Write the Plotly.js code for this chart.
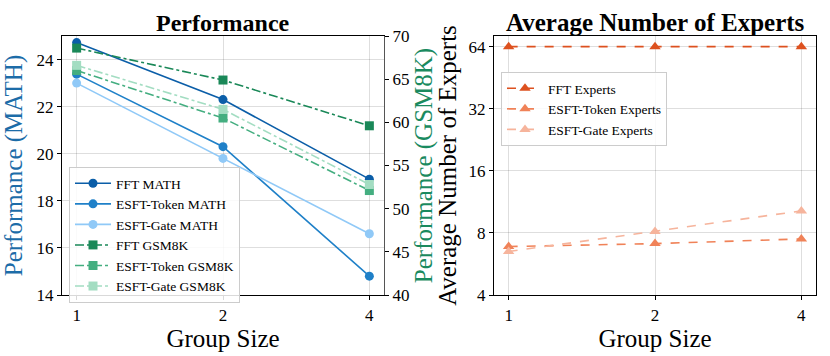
<!DOCTYPE html>
<html>
<head>
<meta charset="utf-8">
<script src="https://cdn.plot.ly/plotly-3.0.1.min.js"></script>
<style>html,body{margin:0;padding:0;background:#fff;}#chart{width:830px;height:356px;}</style>
</head>
<body>
<div id="chart"></div>
<script>
// ---- data ----
const groupSizes = [1, 2, 4];
const groupTickLabels = ['1', '2', '4'];

const fftMath = [24.72, 22.3, 18.92];
const esftTokenMath = [23.38, 20.3, 14.8];
const esftGateMath = [23.0, 19.8, 16.6];

const fftGsm8k = [68.6, 64.9, 59.6];
const esftTokenGsm8k = [66.0, 60.5, 52.1];
const esftGateGsm8k = [66.6, 61.5, 52.8];

const fftExperts = [64, 64, 64];
const esftTokenExperts = [6.87, 7.1, 7.48];
const esftGateExperts = [6.5, 8.12, 10.23];

const expertTicks = [4, 8, 16, 32, 64];
const mathTicks = [14, 16, 18, 20, 22, 24];
const gsmTicks = [40, 45, 50, 55, 60, 65, 70];

// ---- styles ----
const serif = 'Liberation Serif';
const c = {
  fftMath: '#0b5ea8', tokMath: '#1f80c8', gateMath: '#90c9f7',
  fftGsm: '#1a8858', tokGsm: '#44ae80', gateGsm: '#a3ddc2',
  fftExp: '#dd511f', tokExp: '#f08258', gateExp: '#f6b49c'
};

function line(name, y, color, opts) {
  return Object.assign({
    type: 'scatter', mode: 'lines+markers', name: name,
    x: groupSizes, y: y,
    line: {color: color, width: 1.6},
    marker: {color: color, size: 9, symbol: 'circle'}
  }, opts || {});
}

const traces = [
  line('FFT MATH', fftMath, c.fftMath, {xaxis: 'x', yaxis: 'y'}),
  line('ESFT-Token MATH', esftTokenMath, c.tokMath, {xaxis: 'x', yaxis: 'y'}),
  line('ESFT-Gate MATH', esftGateMath, c.gateMath, {xaxis: 'x', yaxis: 'y'}),
  line('FFT GSM8K', fftGsm8k, c.fftGsm, {xaxis: 'x', yaxis: 'y2', line: {color: c.fftGsm, width: 1.6, dash: 'dashdot'}, marker: {color: c.fftGsm, size: 9, symbol: 'square'}}),
  line('ESFT-Token GSM8K', esftTokenGsm8k, c.tokGsm, {xaxis: 'x', yaxis: 'y2', line: {color: c.tokGsm, width: 1.6, dash: 'dashdot'}, marker: {color: c.tokGsm, size: 9, symbol: 'square'}}),
  line('ESFT-Gate GSM8K', esftGateGsm8k, c.gateGsm, {xaxis: 'x', yaxis: 'y2', line: {color: c.gateGsm, width: 1.6, dash: 'dashdot'}, marker: {color: c.gateGsm, size: 9, symbol: 'square'}}),
  line('FFT Experts', fftExperts, c.fftExp, {xaxis: 'x2', yaxis: 'y3', legend: 'legend2', line: {color: c.fftExp, width: 1.6, dash: 'dash'}, marker: {color: c.fftExp, size: 10, symbol: 'triangle-up'}}),
  line('ESFT-Token Experts', esftTokenExperts, c.tokExp, {xaxis: 'x2', yaxis: 'y3', legend: 'legend2', line: {color: c.tokExp, width: 1.6, dash: 'dash'}, marker: {color: c.tokExp, size: 10, symbol: 'triangle-up'}}),
  line('ESFT-Gate Experts', esftGateExperts, c.gateExp, {xaxis: 'x2', yaxis: 'y3', legend: 'legend2', line: {color: c.gateExp, width: 1.6, dash: 'dash'}, marker: {color: c.gateExp, size: 10, symbol: 'triangle-up'}})
];

const xr = [Math.log10(1) - 0.1 * Math.log10(2), Math.log10(4) + 0.1 * Math.log10(2)];
const tickFont = {family: serif, size: 17, color: '#000'};
const titleFont = {family: serif, size: 25, color: '#000'};
const grid = 'rgba(0,0,0,0.13)';

function xAxis(domain, anchor) {
  return {
    domain: domain, anchor: anchor, type: 'log', range: xr,
    tickvals: groupSizes, ticktext: groupTickLabels,
    tickfont: tickFont, ticks: 'outside', ticklen: 4, tickcolor: '#000',
    showgrid: true, gridcolor: grid, gridwidth: 1,
    showline: true, linecolor: '#000', linewidth: 1.2, mirror: true,
    zeroline: false,
    title: {text: 'Group Size', font: titleFont, standoff: 4}
  };
}

const yDom = [1 - 295 / 356, 1 - 36 / 356];

const layout = {
  width: 830, height: 356,
  margin: {l: 0, r: 0, t: 0, b: 0},
  paper_bgcolor: '#fff', plot_bgcolor: '#fff',
  font: {family: serif, color: '#000'},
  xaxis: xAxis([62 / 830, 384 / 830], 'y'),
  yaxis: {
    domain: yDom, anchor: 'x', range: [14, 25],
    tickvals: mathTicks, tickfont: tickFont, ticks: 'outside', ticklen: 4, tickcolor: '#000',
    showgrid: true, gridcolor: grid,
    showline: true, linecolor: '#000', linewidth: 1.2, zeroline: false,
    title: {text: 'Performance (MATH)', font: {family: serif, size: 25, color: '#1c6ca8'}, standoff: 6}
  },
  yaxis2: {
    overlaying: 'y', side: 'right', anchor: 'x', range: [40, 70],
    tickvals: gsmTicks, tickfont: tickFont, ticks: 'outside', ticklen: 4, tickcolor: '#000',
    showgrid: false, showline: true, linecolor: '#555', linewidth: 1.2, zeroline: false,
    title: {text: 'Performance (GSM8K)', font: {family: serif, size: 25, color: '#1a8a5f'}, standoff: 4}
  },
  xaxis2: xAxis([494 / 830, 816 / 830], 'y3'),
  yaxis3: {
    domain: yDom, anchor: 'x2', type: 'log', range: [Math.log10(4), Math.log10(72.1)],
    tickvals: expertTicks, ticktext: expertTicks.map(String),
    tickfont: tickFont, ticks: 'outside', ticklen: 4, tickcolor: '#000',
    showgrid: true, gridcolor: grid,
    showline: true, linecolor: '#000', linewidth: 1.2, mirror: true, zeroline: false,
    title: {text: 'Average Number of Experts', font: titleFont, standoff: 4}
  },
  legend: {
    x: 69 / 830, y: 1 - 167 / 356, xanchor: 'left', yanchor: 'top',
    bgcolor: 'rgba(255,255,255,0.85)', bordercolor: '#ccc', borderwidth: 1,
    font: {family: serif, size: 13.5, color: '#000'}, tracegroupgap: 0, itemwidth: 36
  },
  legend2: {
    x: 501 / 830, y: 1 - 72 / 356, xanchor: 'left', yanchor: 'top',
    bgcolor: 'rgba(255,255,255,0.85)', bordercolor: '#ccc', borderwidth: 1,
    font: {family: serif, size: 13.5, color: '#000'}, tracegroupgap: 0, itemwidth: 36
  },
  annotations: [
    {text: '<b>Performance</b>', xref: 'paper', yref: 'paper', x: 223 / 830, y: 1 - 23 / 356,
     xanchor: 'center', yanchor: 'middle', showarrow: false, font: {family: serif, size: 24, color: '#000'}},
    {text: '<b>Average Number of Experts</b>', xref: 'paper', yref: 'paper', x: 655 / 830, y: 1 - 23 / 356,
     xanchor: 'center', yanchor: 'middle', showarrow: false, font: {family: serif, size: 25, color: '#000'}}
  ],
  showlegend: true
};

Plotly.newPlot('chart', traces, layout, {displayModeBar: false, staticPlot: true});
</script>
</body>
</html>
